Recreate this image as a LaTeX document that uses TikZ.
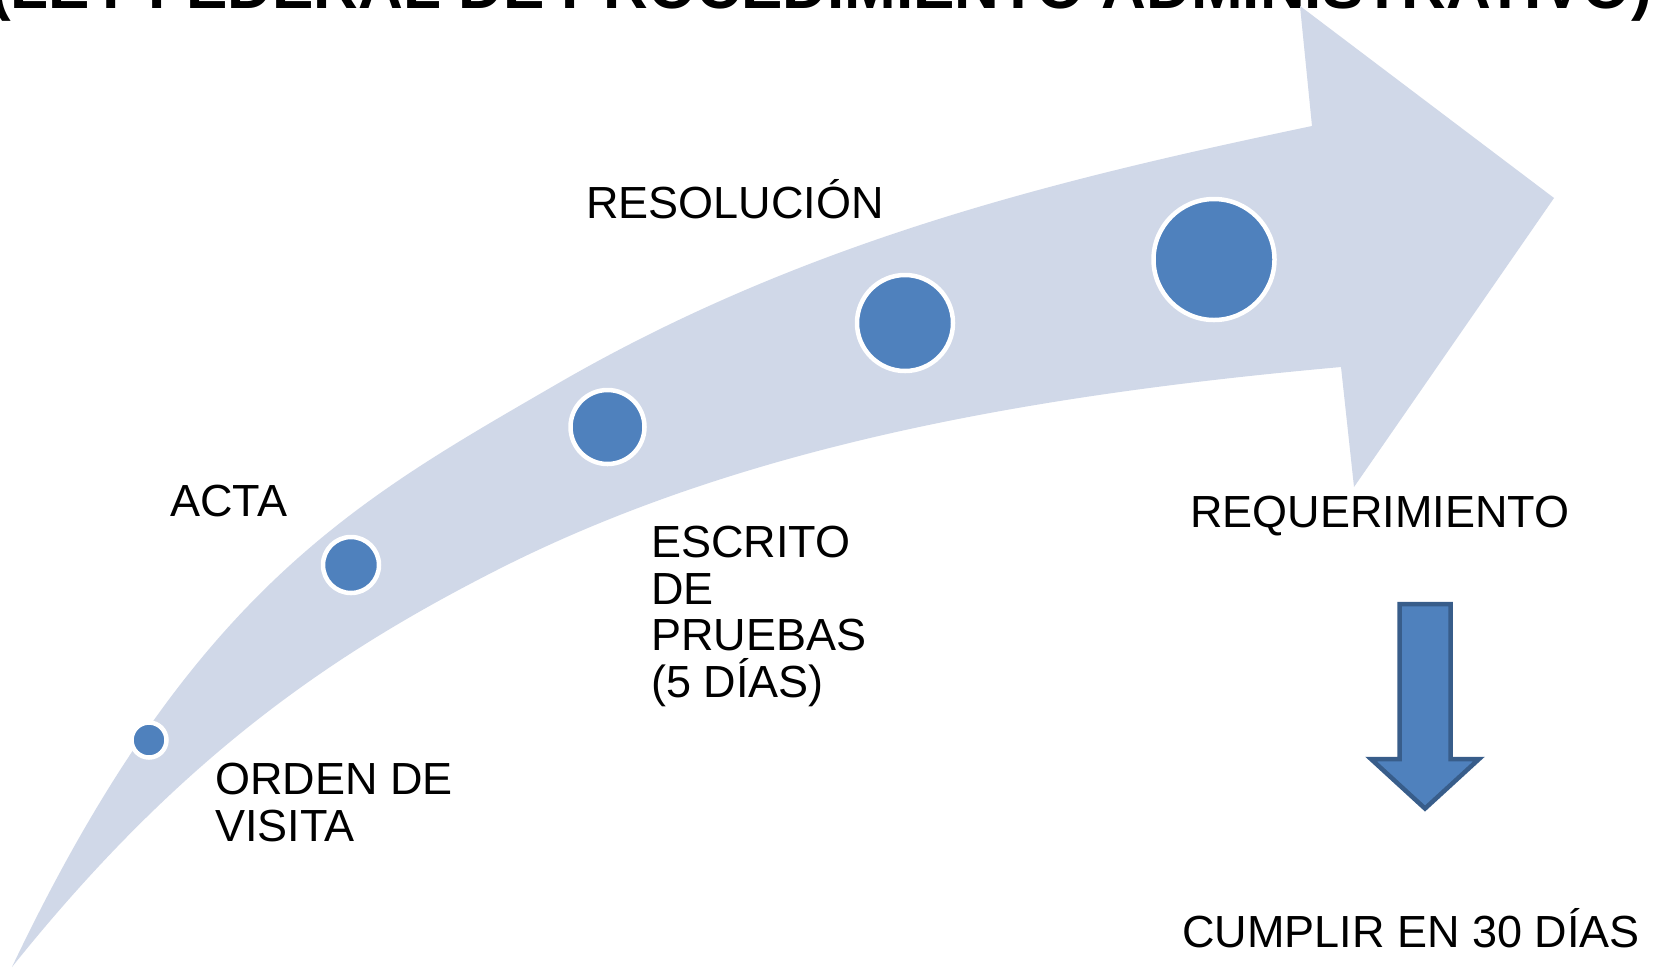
\documentclass[tikz,border=0pt]{standalone}
\usepackage{fontspec}
\setmainfont{Liberation Sans}
\definecolor{band}{HTML}{D0D8E8}
\definecolor{dot}{HTML}{4F81BD}
\definecolor{dotedge}{HTML}{385D8A}
\begin{document}
\begin{tikzpicture}[x=0.5pt,y=-0.5pt,
  lbl/.style={font=\fontsize{22.5pt}{23.3pt}\selectfont, inner sep=0pt, align=left},
  dotc/.style={circle, fill=dot, draw=white, line width=2.25pt, inner sep=0pt},
  downarrow/.style={fill=dot, draw=dotedge, line width=2.25pt, line join=miter}
]
\useasboundingbox (0,0) rectangle (1658,970);
\fill[white] (0,0) rectangle (1658,970);
\begin{scope}
\clip (0,0) rectangle (1658,970);
\node[anchor=base east, inner sep=0pt, font=\bfseries\fontsize{31pt}{31pt}\selectfont] (title) at (1652,8) {(LEY FEDERAL DE PROCEDIMIENTO ADMINISTRATIVO)};
\end{scope}
% big curved arrow
\fill[band] (12,967) .. controls (192,589) and (357,500) .. (557,384)
  .. controls (807,239.25) and (1062,178.5) .. (1312,126)
  -- (1300,6) -- (1554,198) -- (1354,487) -- (1341,367)
  .. controls (1041,394) and (745,443.5) .. (495,571)
  .. controls (335,652.6) and (182,754.5) .. (12,967) -- cycle;
% dots
\node[dotc, minimum size=17.5pt] (d1) at (149,740) {};
\node[dotc, minimum size=28pt] (d2) at (351,565) {};
\node[dotc, minimum size=37pt] (d3) at (607.5,427) {};
\node[dotc, minimum size=48pt] (d4) at (905,323) {};
\node[dotc, minimum size=60.5pt] (d5) at (1214,259.5) {};
% labels
\node[lbl, anchor=north west] (orden) at (215,762.8) {ORDEN DE\\VISITA};
\node[lbl, anchor=base west] (acta) at (170,516.5) {ACTA};
\node[lbl, anchor=north west] (escrito) at (651,525.8) {ESCRITO\\DE\\PRUEBAS\\(5 DÍAS)};
\node[lbl, anchor=base west] (res) at (586,218) {RESOLUCIÓN};
\node[lbl, anchor=base west] (req) at (1190,527) {REQUERIMIENTO};
\node[lbl, anchor=base west] (cumplir) at (1182,947.5) {CUMPLIR EN 30 DÍAS};
% down arrow
\filldraw[downarrow] (1399.5,604) -- (1450.5,604) -- (1450.5,759) -- (1479,759) -- (1425,808.5) -- (1371,759) -- (1399.5,759) -- cycle;
\end{tikzpicture}
\end{document}
